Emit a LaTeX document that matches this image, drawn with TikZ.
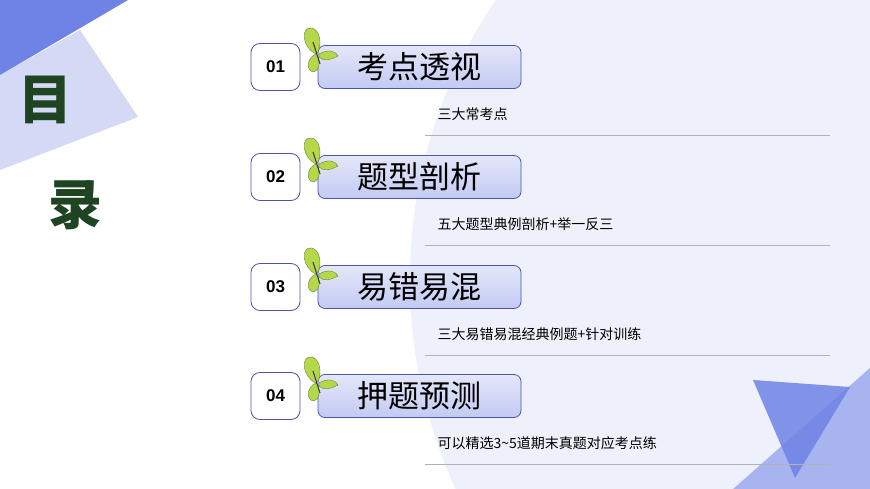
\documentclass[tikz,border=0pt]{standalone}
\usepackage{fontspec}
\setmainfont{Liberation Sans}
\newfontfamily\cjk{Noto Sans CJK SC}
\newfontfamily\cjkb{Noto Sans CJK SC Black}
\usetikzlibrary{positioning}
\definecolor{bgcirc}{HTML}{EEF1FB}
\definecolor{darkblue}{HTML}{6F82E6}
\definecolor{lightblue}{HTML}{D4D9F6}
\definecolor{barblue}{HTML}{C3CAF3}
\definecolor{edgeblue}{HTML}{4B56A6}
\definecolor{leafgreen}{HTML}{B5D84A}
\definecolor{titlegreen}{HTML}{1F4421}
\tikzset{
  numbox/.style={draw=edgeblue, line width=0.8pt, rounded corners=9pt, fill=white, minimum width=49pt, minimum height=47pt, font=\bfseries\fontsize{17}{17}\selectfont},
  titlebar/.style={draw=edgeblue, line width=0.8pt, rounded corners=7pt, top color=barblue!45, bottom color=barblue, minimum width=203pt, minimum height=43pt, font=\cjk\fontsize{31}{31}\selectfont},
  subtext/.style={anchor=west, font=\cjk\fontsize{14}{14}\selectfont},
  sepline/.style={draw=gray!60, line width=0.8pt},
  wing/.style={fill=leafgreen, draw=leafgreen!50!black, line width=0.3pt}
}
\newcommand\bfly[1]{%
  \begin{scope}[shift={(#1)}]
    \fill[wing] (0,0) .. controls (-14,-6) and (-16,-28) .. (-4,-26) .. controls (4,-24) and (6,-10) .. (2,-2) -- cycle;
    \fill[wing] (0,0) .. controls (-10,4) and (-10,18) .. (-2,18) .. controls (4,16) and (4,8) .. (2,2) -- cycle;
    \fill[wing] (3,0) .. controls (14,-6) and (20,-2) .. (22,2) .. controls (14,6) and (8,8) .. (3,3) -- cycle;
    \draw[line width=1.1pt, black!75] (-3,-12) -- (4,10);
  \end{scope}}
\begin{document}
\begin{tikzpicture}[x=1pt, y=-1pt]
\useasboundingbox (0,0) rectangle (870,489);
\fill[white] (0,0) rectangle (870,489);
% background shapes
\begin{scope}
  \clip (0,0) rectangle (870,489);
  \fill[bgcirc] (910,280) circle (500);
  \fill[lightblue] (0,75) -- (80,30) -- (138,117) -- (0,170) -- cycle;
  \fill[darkblue] (0,0) -- (128,0) -- (0,75) -- cycle;
  \fill[darkblue!65, opacity=0.9] (733,489) -- (870,368) -- (870,489) -- cycle;
  \fill[darkblue, opacity=0.85] (753,380) -- (850,387) -- (795,478) -- cycle;
\end{scope}
\node[font=\cjkb\fontsize{54}{54}\selectfont, text=titlegreen] (mu) at (45,100) {目};
\node[font=\cjkb\fontsize{54}{54}\selectfont, text=titlegreen] (lu) at (75,205) {录};
% rows
\foreach \n/\y/\t/\s in {01/67/考点透视/三大常考点, 02/177/题型剖析/五大题型典例剖析+举一反三, 03/287/易错易混/三大易错易混经典例题+针对训练, 04/396/押题预测/可以精选3\textasciitilde 5道期末真题对应考点练}{
  \node[numbox] (num\n) at (275.5,\y) {\n};
  \node[titlebar] (bar\n) at (419.5,\y) {\t};
  \node[subtext] (sub\n) at (434,\y+47) {\s};
  \draw[sepline] (425,\y+68) -- (830,\y+68);
  \bfly{316,\y-13}
}
\end{tikzpicture}
\end{document}
